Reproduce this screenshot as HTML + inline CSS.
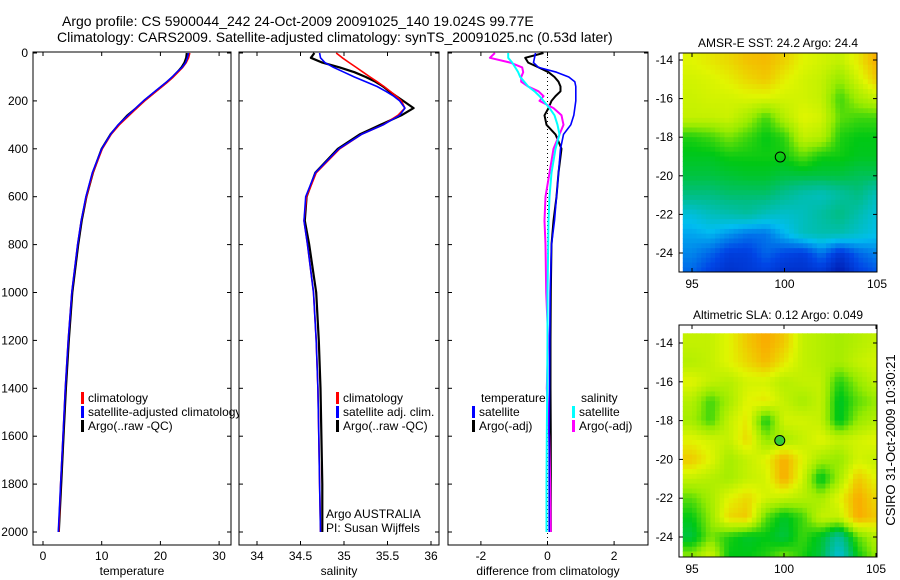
<!DOCTYPE html>
<html><head><meta charset="utf-8"><style>
html,body{margin:0;padding:0;background:#fff;}
svg{display:block;font-family:"Liberation Sans",sans-serif;}
text{fill:#000;}
</style></head><body>
<svg id="chart" width="900" height="580" viewBox="0 0 900 580" xmlns="http://www.w3.org/2000/svg">
<text x="62" y="26" font-size="14">Argo profile: CS 5900044_242 24-Oct-2009 20091025_140 19.024S 99.77E</text>
<text x="57" y="42" font-size="14">Climatology: CARS2009. Satellite-adjusted climatology: synTS_20091025.nc (0.53d later)</text>
<text x="778" y="47" font-size="12" text-anchor="middle">AMSR-E SST: 24.2 Argo: 24.4</text>
<text x="778" y="319" font-size="12" text-anchor="middle">Altimetric SLA: 0.12 Argo: 0.049</text>
<text font-size="13" text-anchor="middle" transform="translate(895,440) rotate(-90)">CSIRO 31-Oct-2009 10:30:21</text>
<g id="layer"></g>
</svg>
<script>
const depths=[0,20,40,60,80,100,120,140,160,180,200,230,260,300,340,400,500,600,700,800,1000,1200,1400,1600,1800,2000];
const tempClim=[25,24.8,24.4,23.8,23,22.2,21.3,20.3,19.3,18.3,17.3,16,14.7,13,11.6,10.1,8.5,7.4,6.5,5.9,4.9,4.3,3.8,3.4,3.0,2.7];
const tempSat=[24.8,24.6,24.3,23.7,22.8,22.0,21.1,20.1,19.1,18.1,17.1,15.8,14.5,12.8,11.5,10.0,8.4,7.3,6.5,5.9,4.9,4.3,3.8,3.4,3.0,2.6];
const tempArgo=[24.5,24.4,24.1,23.6,22.9,22.1,21.2,20.2,19.2,18.2,17.2,15.9,14.4,12.9,11.5,10.0,8.5,7.4,6.6,6.0,5.0,4.4,3.9,3.5,3.1,2.7];
const salClim=[34.91,34.98,35.06,35.14,35.22,35.3,35.38,35.46,35.53,35.6,35.66,35.7,35.62,35.45,35.2,34.95,34.68,34.57,34.54,34.58,34.65,34.68,34.7,34.71,34.72,34.73];
const salSat=[34.72,34.73,34.78,34.88,35.0,35.12,35.25,35.38,35.48,35.57,35.64,35.7,35.64,35.45,35.2,34.94,34.67,34.56,34.54,34.58,34.65,34.68,34.7,34.71,34.72,34.73];
const salArgo=[34.66,34.62,34.75,34.95,35.12,35.25,35.36,35.45,35.52,35.6,35.68,35.8,35.66,35.42,35.18,34.93,34.67,34.57,34.55,34.6,34.68,34.71,34.73,34.74,34.75,34.75];
const dTempSat=[-0.36,-0.39,-0.42,-0.27,0.27,0.64,0.82,0.85,0.85,0.85,0.85,0.82,0.79,0.7,0.48,0.39,0.33,0.27,0.21,0.12,0.08,0.07,0.06,0.05,0.05,0.05];
const dTempArgo=[-0.12,-0.67,-0.58,-0.27,0.03,0.21,0.33,0.39,0.39,0.24,0.12,0.03,-0.09,-0.03,0.24,0.42,0.33,0.27,0.18,0.12,0.1,0.09,0.09,0.1,0.1,0.1];
const dSalSat=[-1.18,-1.18,-1.06,-0.97,-0.88,-0.82,-0.7,-0.58,-0.39,-0.24,-0.12,0.06,0.21,0.3,0.36,0.24,0.12,0.06,0.03,0.02,0,0,-0.01,-0.02,-0.03,-0.03];
const dSalArgo=[-1.58,-1.73,-1.12,-0.76,-0.73,-0.79,-0.79,-0.58,-0.27,-0.12,-0.24,0.18,0.42,0.48,0.36,0.18,0.06,-0.06,-0.09,-0.06,-0.04,0.02,-0.02,0.05,0.08,0.1];
const depthTicks=[0,200,400,600,800,1000,1200,1400,1600,1800,2000];
const tempTicks=[0,10,20,30];
const salTicks=[34,34.5,35,35.5,36];
const diffTicks=[-2,0,2];
const mapLonTicks=[95,100,105];
const mapLatTicks=[-14,-16,-18,-20,-22,-24];
const mapLons=[95,96,97,98,99,100,101,102,103,104,105];
const mapLats=[-14,-15,-16,-17,-18,-19,-20,-21,-22,-23,-24,-25];
const sstGrid=[
[.8,.82,.84,.87,.88,.85,.8,.78,.76,.82,.9],
[.78,.79,.81,.84,.86,.81,.78,.76,.7,.78,.86],
[.77,.78,.78,.79,.79,.78,.78,.76,.64,.72,.76],
[.76,.76,.77,.72,.64,.74,.8,.78,.66,.64,.64],
[.62,.64,.68,.64,.6,.63,.76,.74,.62,.6,.6],
[.59,.59,.61,.61,.61,.61,.66,.61,.61,.59,.59],
[.56,.56,.57,.58,.58,.56,.56,.56,.56,.54,.54],
[.5,.5,.52,.52,.52,.48,.44,.42,.46,.5,.42],
[.38,.42,.44,.46,.42,.4,.42,.46,.5,.44,.38],
[.32,.34,.3,.26,.26,.34,.42,.44,.44,.4,.36],
[.28,.24,.18,.18,.24,.2,.18,.26,.16,.24,.28],
[.24,.18,.14,.16,.18,.14,.14,.16,.08,.18,.22]];
const slaGrid=[
[.76,.76,.8,.86,.9,.86,.76,.74,.72,.74,.76],
[.74,.76,.8,.84,.88,.82,.76,.74,.72,.76,.78],
[.8,.76,.74,.78,.78,.74,.76,.76,.62,.7,.76],
[.74,.64,.72,.8,.82,.76,.72,.76,.58,.66,.7],
[.72,.64,.76,.82,.6,.78,.78,.76,.58,.7,.74],
[.8,.78,.76,.84,.7,.72,.76,.8,.76,.78,.8],
[.86,.8,.72,.76,.8,.9,.8,.72,.7,.78,.76],
[.76,.74,.72,.76,.78,.9,.78,.58,.72,.86,.8],
[.66,.72,.8,.84,.78,.76,.74,.72,.8,.9,.84],
[.6,.7,.84,.86,.66,.58,.64,.76,.76,.9,.86],
[.56,.68,.62,.58,.6,.56,.64,.58,.46,.66,.74],
[.7,.78,.6,.6,.62,.68,.62,.56,.38,.6,.7]];
const argoLon=99.77, argoLat=-19.024;

const NS='http://www.w3.org/2000/svg';
const layer=document.getElementById('layer');
function mk(tag,attrs,parent){const e=document.createElementNS(NS,tag);for(const k in attrs)e.setAttribute(k,attrs[k]);(parent||layer).appendChild(e);return e;}
const yD=d=>53+d*0.2395;
function panel(x0,x1,name){
  const g=mk('g',{});
  
  
  mk('rect',{x:x0,y:52,width:x1-x0,height:493,fill:'#fff'},g);
  return g;
}
function frame(g,x0,x1,y0,y1){mk('rect',{x:x0,y:y0,width:x1-x0,height:y1-y0,fill:'none',stroke:'#000','stroke-width':1},g);}
function line(g,xs,ds,sx,color,w,name){
  const pts=ds.map((d,i)=>sx(xs[i]).toFixed(1)+','+yD(d).toFixed(1)).join(' ');
  const p=mk('polyline',{points:pts,fill:'none',stroke:color,'stroke-width':w,'stroke-linejoin':'round'},g);
  
  
}
function profAxes(g,x0,x1,ticks,sx,label,showY){
  depthTicks.forEach(d=>{const y=yD(d);
    mk('line',{x1:x0,y1:y,x2:x0+4,y2:y,stroke:'#000'},g);mk('line',{x1:x1-4,y1:y,x2:x1,y2:y,stroke:'#000'},g);
    if(showY){const t=mk('text',{x:x0-5,y:y+4,'font-size':12,'text-anchor':'end'},g);t.textContent=d;
      
      }
  });
  ticks.forEach(v=>{const x=sx(v);
    mk('line',{x1:x,y1:52,x2:x,y2:56,stroke:'#000'},g);mk('line',{x1:x,y1:541,x2:x,y2:545,stroke:'#000'},g);
    const t=mk('text',{x:x,y:560,'font-size':12,'text-anchor':'middle'},g);t.textContent=v;
    
    });
  const t=mk('text',{x:(x0+x1)/2,y:575,'font-size':12,'text-anchor':'middle'},g);t.textContent=label;
  
  
  frame(g,x0,x1,52,545);
}
function legend(g,x,y,color,txt){
  if(color)mk('rect',{x:x,y:y-10,width:3,height:12,fill:color},g);
  const t=mk('text',{x:x+7,y:y,'font-size':12},g);t.textContent=txt;
  
  
}
// Panel 1 temperature
const sT=v=>43+v*5.87;
const g1=panel(33,231,'temperature-panel');
line(g1,tempArgo,depths,sT,'#000',2.2,'temp-argo-line');
line(g1,tempClim,depths,sT,'#f00',1.6,'temp-clim-line');
line(g1,tempSat,depths,sT,'#00f',1.6,'temp-sat-line');
legend(g1,81,402,'#f00','climatology');
legend(g1,81,416,'#00f','satellite-adjusted climatology');
legend(g1,81,430,'#000','Argo(..raw -QC)');
profAxes(g1,33,231,tempTicks,sT,'temperature',true);
// Panel 2 salinity
const sS=v=>257+(v-34)*87;
const g2=panel(239,439,'salinity-panel');
line(g2,salArgo,depths,sS,'#000',2.2,'sal-argo-line');
line(g2,salClim,depths,sS,'#f00',1.6,'sal-clim-line');
line(g2,salSat,depths,sS,'#00f',1.6,'sal-sat-line');
legend(g2,336,402,'#f00','climatology');
legend(g2,336,416,'#00f','satellite adj. clim.');
legend(g2,336,430,'#000','Argo(..raw -QC)');
[['Argo AUSTRALIA',518],['PI: Susan Wijffels',532]].forEach(a=>{const t=mk('text',{x:326,y:a[1],'font-size':12},g2);t.textContent=a[0];
  
  });
profAxes(g2,239,439,salTicks,sS,'salinity',false);
// Panel 3 difference
const sD=v=>547.5+v*33.3;
const g3=panel(448,648,'difference-panel');
mk('line',{x1:sD(0),y1:53,x2:sD(0),y2:545,stroke:'#000','stroke-dasharray':'1,3'},g3);
line(g3,dTempArgo,depths,sD,'#000',2,'diff-temp-argo-line');
line(g3,dSalArgo,depths,sD,'#f0f',2,'diff-sal-argo-line');
line(g3,dSalSat,depths,sD,'#0ff',2,'diff-sal-sat-line');
line(g3,dTempSat,depths,sD,'#00f',1.6,'diff-temp-sat-line');
legend(g3,474,402,null,'temperature');
legend(g3,574,402,null,'salinity');
legend(g3,472,416,'#00f','satellite');
legend(g3,572,416,'#0ff','satellite');
legend(g3,472,430,'#000','Argo(-adj)');
legend(g3,572,430,'#f0f','Argo(-adj)');
profAxes(g3,448,648,diffTicks,sD,'difference from climatology',false);
// Maps
const cmStops=[[0,[0,0,140]],[0.2,[0,70,230]],[0.35,[0,190,240]],[0.5,[0,190,130]],[0.6,[0,200,20]],[0.7,[150,235,0]],[0.8,[225,245,0]],[0.9,[250,170,0]],[1,[240,40,0]]];
function cmap(v){v=Math.max(0,Math.min(1,v));
  for(let i=1;i<cmStops.length;i++){if(v<=cmStops[i][0]){const a=cmStops[i-1],b=cmStops[i],f=(v-a[0])/(b[0]-a[0]);
    return 'rgb('+a[1].map((c,k)=>Math.round(c+(b[1][k]-c)*f)).join(',')+')';}}
  return 'rgb(240,40,0)';}
function sample(grid,fi,fj){
  const i0=Math.max(0,Math.min(grid.length-1,Math.floor(fi))),j0=Math.max(0,Math.min(grid[0].length-1,Math.floor(fj)));
  const i1=Math.min(grid.length-1,i0+1),j1=Math.min(grid[0].length-1,j0+1);
  const a=Math.max(0,Math.min(1,fi-i0)),b=Math.max(0,Math.min(1,fj-j0));
  return grid[i0][j0]*(1-a)*(1-b)+grid[i0][j1]*(1-a)*b+grid[i1][j0]*a*(1-b)+grid[i1][j1]*a*b;}
function map(name,grid,x0,x1,y0,y1,lx,ly,fill){
  const g=mk('g',{});
  
  
  const clip=mk('clipPath',{id:name+'-clip'},g);mk('rect',{x:x0,y:y0,width:x1-x0,height:y1-y0},clip);
  const cg=mk('g',{'clip-path':'url(#'+name+'-clip)'},g);
  const sub=4;
  for(let i=0;i<grid.length*sub;i++)for(let j=0;j<grid[0].length*sub;j++){
    const fi=(i+0.5)/sub-0.5,fj=(j+0.5)/sub-0.5;
    const v=sample(grid,fi,fj);
    const lonA=mapLons[0]-0.5+j/sub,latA=mapLats[0]+0.5-i/sub;
    const xa=lx(lonA),xb=lx(lonA+1/sub),ya=ly(latA),yb=ly(latA-1/sub);
    const c=mk('rect',{x:xa.toFixed(1),y:ya.toFixed(1),width:(xb-xa+0.6).toFixed(1),height:(yb-ya+0.6).toFixed(1),fill:cmap(v)},cg);
    
    
  }
  const m=mk('circle',{cx:lx(argoLon),cy:ly(argoLat),r:5,fill:fill,stroke:'#000','stroke-width':1},g);
  
  
  frame(g,x0,x1,y0,y1);
  mapLonTicks.forEach(v=>{const x=lx(v);mk('line',{x1:x,y1:y0,x2:x,y2:y0+4,stroke:'#000'},g);mk('line',{x1:x,y1:y1-4,x2:x,y2:y1,stroke:'#000'},g);
    const t=mk('text',{x:x,y:y1+16,'font-size':12,'text-anchor':'middle'},g);t.textContent=v;
    
    });
  mapLatTicks.forEach(v=>{const y=ly(v);mk('line',{x1:x0,y1:y,x2:x0+4,y2:y,stroke:'#000'},g);mk('line',{x1:x1-4,y1:y,x2:x1,y2:y,stroke:'#000'},g);
    const t=mk('text',{x:x0-6,y:y+4,'font-size':12,'text-anchor':'end'},g);t.textContent=v;
    
    });
}
map('sst-map',sstGrid,679,877,53,272,v=>692+(v-95)*18.5,v=>60+(-14-v)*19.3,'none');
map('sla-map',slaGrid,679,877,325,557,v=>692+(v-95)*18.4,v=>343+(-14-v)*19.4,'#3c3');
</script>
</body></html>
